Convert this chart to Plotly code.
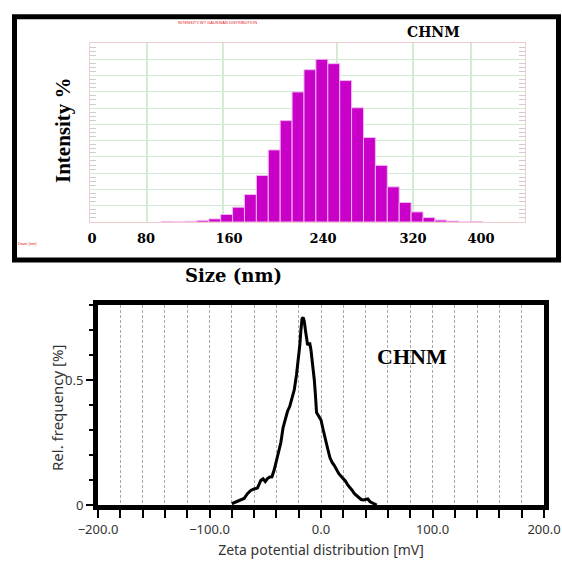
import plotly.graph_objects as go

# ---------------- data ----------------
# Top panel: intensity size distribution (bars on a bin-index axis, bins -2..24)
size_bins = list(range(-2, 25))
intensity = [0.03, 0.0, 0.04, 0.10, 0.19, 0.46, 0.91, 1.69, 2.86, 4.43, 6.23, 7.99,
             9.36, 10.0, 9.73, 8.69, 7.02, 5.19, 3.48, 2.16, 1.20, 0.62, 0.27,
             0.12, 0.06, 0.0, 0.03]
size_tick_labels = ["0", "80", "160", "240", "320", "400"]

# Bottom panel: zeta potential distribution
zeta_mv = [-80, -76, -72, -69, -66, -63, -60, -57, -54, -52, -50, -48, -46, -44, -42,
           -40, -38, -36, -34, -32, -30, -28, -26, -24, -22, -20, -19, -18, -17, -16,
           -15, -14, -13, -12, -11, -10, -9, -8, -7, -6, -5, -4, -2, 0, 2, 4, 6, 8,
           10, 12, 14, 16, 18, 20, 22, 24, 26, 28, 30, 32, 34, 36, 38, 40, 42, 44,
           46, 48, 50]
zeta_freq = [0.005, 0.012, 0.02, 0.026, 0.045, 0.058, 0.064, 0.068, 0.098, 0.105,
             0.094, 0.106, 0.112, 0.113, 0.14, 0.18, 0.21, 0.25, 0.31, 0.345, 0.375,
             0.395, 0.425, 0.46, 0.52, 0.59, 0.64, 0.70, 0.745, 0.75, 0.735, 0.70,
             0.66, 0.64, 0.645, 0.645, 0.62, 0.58, 0.55, 0.50, 0.44, 0.37, 0.355,
             0.34, 0.30, 0.255, 0.225, 0.19, 0.17, 0.158, 0.14, 0.125, 0.115, 0.105,
             0.095, 0.08, 0.07, 0.058, 0.045, 0.038, 0.03, 0.022, 0.02, 0.022, 0.024,
             0.013, 0.008, 0.004, 0.0]

# ---------------- layout helpers ----------------
W, H = 562, 563
def px(xp):
    return xp / W
def py(yp):
    return 1 - yp / H

size_tick_pos = [-8.3, -3.78, 3.2, 11.1, 18.66, 24.37]
green_lines = [-3.69, 2.69, 12.27, 18.66, 23.53]

fig = go.Figure()

fig.add_trace(go.Bar(
    x=size_bins, y=intensity, xaxis="x", yaxis="y",
    marker=dict(color="#c800c8", line=dict(color="#f2b8f2", width=1)),
    width=1.0, showlegend=False,
))

fig.add_trace(go.Scatter(
    x=zeta_mv, y=zeta_freq, xaxis="x2", yaxis="y2", mode="lines",
    line=dict(color="black", width=3), showlegend=False,
))

shapes = []
for g in green_lines:
    shapes.append(dict(type="line", xref="x", yref="y domain", x0=g, x1=g, y0=0, y1=1,
                       line=dict(color="#a9d6a9", width=1), layer="below"))
# thick frame around the top panel
shapes.append(dict(type="rect", xref="paper", yref="paper",
                   x0=px(14.5), x1=px(558.5), y0=py(260), y1=py(16.8),
                   line=dict(color="black", width=5)))


def note(text, x, y, font, angle=0):
    return dict(text=text, x=px(x), y=py(y), xref="paper", yref="paper",
                xanchor="center", yanchor="middle", showarrow=False,
                textangle=angle, font=font)


annotations = [
    note("INTENSITY-WT GAUSSIAN DISTRIBUTION", 218, 23,
         dict(size=4, color="#e02020", family="Liberation Sans")),
    note("Diam (nm)", 27, 243, dict(size=4, color="#e02020", family="Liberation Sans")),
    note("CHNM", 433, 32,
         dict(size=14, color="black", family="DejaVu Serif", weight="bold")),
    note("Intensity %", 63, 130,
         dict(size=21, color="black", family="Liberation Serif", weight="bold"), -90),
    note("Size (nm)", 233, 275,
         dict(size=18, color="black", family="DejaVu Serif", weight="bold")),
    note("CHNM", 412, 356,
         dict(size=22, color="black", family="Liberation Serif", weight="bold")),
    note("Rel. frequency [%]", 57, 408,
         dict(size=15, color="#333333", family="Noto Sans"), -90),
]

fig.update_layout(
    width=W, height=H,
    margin=dict(l=0, r=0, t=0, b=0, autoexpand=False),
    paper_bgcolor="white", plot_bgcolor="white",
    bargap=0,
    shapes=shapes, annotations=annotations,
    xaxis=dict(
        domain=[px(90), px(525)], anchor="y", automargin=False,
        range=[-8.48, 28.07],
        tickmode="array", tickvals=size_tick_pos, ticktext=size_tick_labels,
        tickfont=dict(size=13, color="black", family="DejaVu Serif", weight="bold"),
        ticks="", showgrid=False, zeroline=False,
        showline=True, linecolor="#f0cccc", linewidth=1, mirror=True,
        ticklabelstandoff=4,
    ),
    yaxis=dict(
        domain=[py(222), py(43)], anchor="x", automargin=False,
        range=[0, 11], dtick=1, tick0=0,
        showticklabels=False, ticks="",
        showgrid=True, gridcolor="#d2e9d2", gridwidth=1,
        zeroline=False, showline=True, linecolor="#f0cccc", linewidth=1, mirror="ticks",
        minor=dict(ticks="inside", dtick=0.25, ticklen=6, tickcolor="#cccccc",
                   tickwidth=1, showgrid=False),
    ),
    xaxis2=dict(
        domain=[px(98), px(544)], anchor="y2", automargin=False,
        range=[-200, 200], tickmode="linear", tick0=-200, dtick=100,
        tickformat=".1f",
        tickfont=dict(size=13, color="#333333", family="Noto Sans"),
        ticks="outside", ticklen=8, tickwidth=2, tickcolor="black",
        showline=True, linewidth=5, linecolor="black", mirror=True,
        showgrid=True, gridcolor="#a8a8a8", gridwidth=1, griddash="3px,2px",
        zeroline=False,
        minor=dict(dtick=20, tick0=-200, ticks="outside", ticklen=8, tickwidth=2,
                   tickcolor="black", showgrid=True, gridcolor="#a8a8a8",
                   gridwidth=1, griddash="3px,2px"),
        title=dict(text="Zeta potential distribution [mV]",
                   font=dict(size=14, color="#333333", family="Noto Sans"), standoff=10),
    ),
    yaxis2=dict(
        domain=[py(505), py(305)], anchor="x2", automargin=False,
        range=[0, 0.8], tickmode="linear", tick0=0, dtick=0.5,
        tickfont=dict(size=13, color="#333333", family="Noto Sans"),
        ticks="outside", ticklen=7, tickwidth=2, tickcolor="black",
        showline=True, linewidth=5, linecolor="black", mirror=True,
        showgrid=False, zeroline=False,
        minor=dict(dtick=0.1, tick0=0, ticks="outside", ticklen=4, tickwidth=2,
                   tickcolor="black", showgrid=False),
    ),
)

fig.write_html(
    "out.html",
    config={"displayModeBar": False, "staticPlot": True},
    post_script="document.body.style.margin='0';document.body.style.overflow='hidden';",
)
